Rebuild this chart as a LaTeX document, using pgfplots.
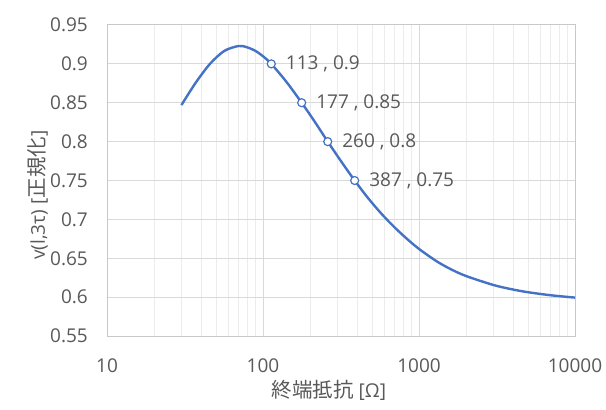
\documentclass[border=0pt]{standalone}
\usepackage{fontspec}
\setmainfont{Open Sans}
\newfontfamily\jp[Scale=1.08]{Noto Sans CJK JP}
\usepackage{pgfplots}
\pgfplotsset{compat=1.18}
\definecolor{txt}{HTML}{595959}
\definecolor{majgrid}{HTML}{D9D9D9}
\definecolor{mingrid}{HTML}{ECECEC}
\definecolor{axline}{HTML}{C8C8C8}
\definecolor{curve}{HTML}{4472C4}
\begin{document}
\begin{tikzpicture}[x=1bp,y=1bp]
\useasboundingbox (-107,-73) rectangle (499,336);
\begin{axis}[
  at={(0,0)}, anchor=south west,
  scale only axis, width=468bp, height=311bp,
  xmode=log, xmin=10, xmax=10000, ymin=0.55, ymax=0.95,
  xtick={10,100,1000,10000}, xticklabels={10,100,1000,10000},
  minor xtick={20,30,40,50,60,70,80,90,200,300,400,500,600,700,800,900,2000,3000,4000,5000,6000,7000,8000,9000},
  ytick={0.55,0.6,0.65,0.7,0.75,0.8,0.85,0.9,0.95},
  yticklabels={0.55,0.6,0.65,0.7,0.75,0.8,0.85,0.9,0.95},
  grid=both,
  major grid style={draw=majgrid, line width=1bp},
  minor grid style={draw=mingrid, line width=0.8bp},
  axis line style={draw=axline, line width=1bp},
  major tick length=0pt, minor tick length=0pt,
  /pgf/number format/assume math mode=true,
  tick label style={font=\fontsize{19bp}{22bp}\selectfont, text=txt, inner sep=0pt},
  xticklabel style={anchor=center, yshift=-29.7bp},
  yticklabel style={anchor=east, xshift=-19bp},
  xlabel={{\jp 終端抵抗} [Ω]},
  ylabel={v(l,3τ) [{\jp 正規化}]},
  label style={font=\fontsize{19bp}{22bp}\selectfont, text=txt, inner sep=0pt},
  xlabel style={at={(axis description cs:0.474,-0.1736)}, anchor=center},
  ylabel style={at={(axis description cs:-0.148,0.453)}, anchor=center},
]
\addplot[curve, line width=2.4bp, smooth, tension=0.5] coordinates {
 (30,0.847) (37.1,0.876) (45.8,0.9002) (56.6,0.9168) (70,0.923)
 (78.9,0.9214) (88.9,0.917) (100.2,0.9097) (113,0.900) (141.5,0.8767)
 (177,0.850) (214.6,0.8256) (260,0.800) (317.4,0.7744) (387,0.750)
 (468,0.7282) (566,0.7087) (684,0.6914) (827,0.6759) (1000,0.662)
 (1300,0.646) (1600,0.6359) (2000,0.6272) (3000,0.6156) (4000,0.6098)
 (5000,0.6063) (7000,0.6024) (10000,0.5994)
};
\addplot[only marks, mark=*, mark size=4bp,
  mark options={fill=white, draw=curve, line width=1.2bp},
  point meta=explicit symbolic, nodes near coords,
  every node near coord/.append style={anchor=west, xshift=14bp, inner sep=0pt,
    font=\fontsize{19bp}{22bp}\selectfont, text=txt}]
coordinates {
 (113,0.9) [113 , 0.9]
 (177,0.85) [177 , 0.85]
 (260,0.8) [260 , 0.8]
 (387,0.75) [387 , 0.75]
};
\end{axis}
\end{tikzpicture}
\end{document}
